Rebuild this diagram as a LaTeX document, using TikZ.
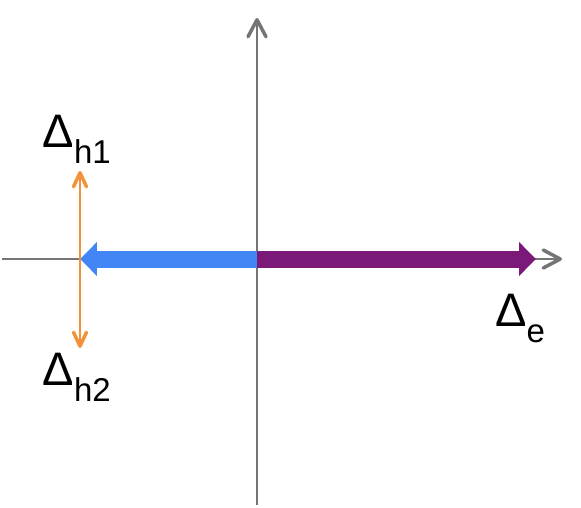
\documentclass[tikz,border=0pt]{standalone}
\usepackage{fontspec}
\setmainfont{Liberation Sans}
\usepackage{xcolor}
\usetikzlibrary{arrows.meta,positioning}
\definecolor{axisgray}{RGB}{117,117,117}
\definecolor{eblue}{RGB}{66,133,244}
\definecolor{epurple}{RGB}{123,25,121}
\definecolor{horange}{RGB}{243,146,58}
\newcommand{\deltasub}[1]{Δ\raisebox{-16pt}{\fontsize{33}{36}\selectfont #1}}

\begin{document}
\begin{tikzpicture}[
  x=1pt, y=1pt,
  axis/.style={draw=axisgray, line width=2.5pt,
               -{Straight Barb[length=17pt,width=18pt,line width=3.5pt,round]}},
  band/.style={line width=17pt,
               -{Triangle[length=17pt,width=33pt]}},
  split/.style={draw=horange, line width=2.5pt,
                {Straight Barb[length=14pt,width=13pt,line width=3.5pt,round]}-{Straight Barb[length=14pt,width=13pt,line width=3.5pt,round]}},
  lbl/.style={inner sep=0pt, anchor=base west, font=\fontsize{47}{56}\selectfont}
]
\useasboundingbox (-257,-248) rectangle (324,259);

% Axes
\coordinate (O)    at (0,0);
\coordinate (xmin) at (-255,0);
\coordinate (xmax) at (305,0);
\coordinate (ymin) at (0,-246);
\coordinate (ymax) at (0,241);
\draw[axis] (xmin) -- (xmax);
\draw[axis] (ymin) -- (ymax);

% Electron and hole bands
\coordinate (etip) at (279,0);
\coordinate (htip) at (-177,0);
\draw[band, epurple] (O) -- (etip);
\draw[band, eblue]   (O) -- (htip);

% Hole splitting
\coordinate (hup)   at (-177,88);
\coordinate (hdown) at (-177,-89);
\draw[split] (hdown) -- (hup);

% Labels
\node[lbl] (dh1) at (-214.5,112)  {\deltasub{h1}};
\node[lbl] (dh2) at (-214.5,-126) {\deltasub{h2}};
\node[lbl] (de)  at (238,-67)     {\deltasub{e}};
\end{tikzpicture}
\end{document}
